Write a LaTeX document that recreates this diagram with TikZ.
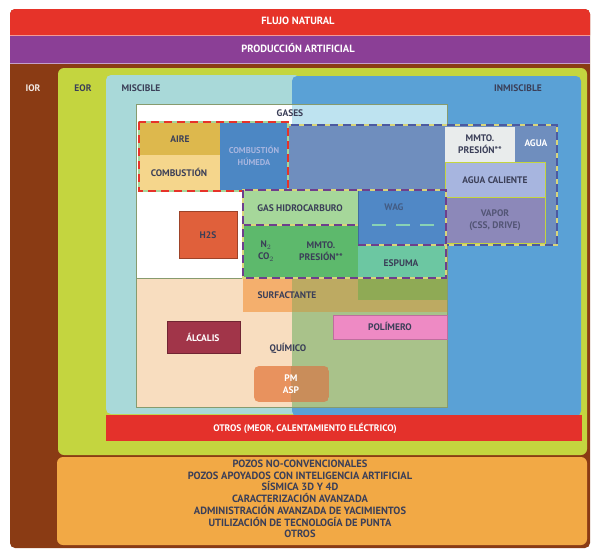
\documentclass[tikz,border=0pt]{standalone}
\usepackage{fontspec}
\setmainfont{PT Sans}
\definecolor{cRed}{HTML}{E63329}
\definecolor{cPurple}{HTML}{8B3F96}
\definecolor{cBrown}{HTML}{8A3B14}
\definecolor{cLime}{HTML}{C4D53F}
\definecolor{cOrange}{HTML}{F2A945}
\definecolor{cTeal}{HTML}{A9D9D9}
\definecolor{cBlue}{HTML}{5AA1D6}
\definecolor{cRedBar}{HTML}{E4312B}
\definecolor{cAire}{HTML}{DDB84D}
\definecolor{cComb}{HTML}{F5D68C}
\definecolor{cCombH}{HTML}{4C87C4}
\definecolor{cAguaG}{HTML}{6F8EBE}
\definecolor{cMmto}{HTML}{E9ECEC}
\definecolor{cAguaC}{HTML}{A7B5DF}
\definecolor{cVapor}{HTML}{8C88B9}
\definecolor{cGHC}{HTML}{A6D79A}
\definecolor{cGreen}{HTML}{5DB96C}
\definecolor{cWag}{HTML}{5088C6}
\definecolor{cEspuma}{HTML}{6CC7A2}
\definecolor{cHtwoS}{HTML}{E0603B}
\definecolor{cPeach}{HTML}{F8DDBF}
\definecolor{cQGreen}{HTML}{A9C28A}
\definecolor{cSurfL}{HTML}{F4AF6D}
\definecolor{cSurfR}{HTML}{BDAA62}
\definecolor{cSurfD}{HTML}{8FAA55}
\definecolor{cPoli}{HTML}{EE8AC4}
\definecolor{cAlc}{HTML}{A13549}
\definecolor{cPmL}{HTML}{E8925E}
\definecolor{cPmR}{HTML}{C98D5A}
\definecolor{cTxt}{HTML}{3B3F58}
\definecolor{cCyan}{HTML}{BEE3F0}
\definecolor{cYel}{HTML}{D9D57A}
\definecolor{cDashP}{HTML}{6E3F8C}
\definecolor{cDashB}{HTML}{4C5AA0}
\begin{document}
\begin{tikzpicture}[x=1pt,y=-1pt,
  lbl/.style={font=\bfseries\fontsize{9.5}{12}\selectfont, text=cTxt, align=center, inner sep=0pt},
  wlbl/.style={lbl, text=white},
  big/.style={font=\bfseries\fontsize{10.5}{11.7}\selectfont, text=cTxt, align=center, inner sep=0pt},
  dd/.style 2 args={draw=#1, line width=1.6pt, dash pattern=on 8pt off 5pt, preaction={draw=#2, line width=1.6pt, solid}},
  thin/.style={line width=0.6pt}]
\useasboundingbox (0,0) rectangle (598,549);
\fill[white] (0,0) rectangle (598,549);
% outer frames
\fill[cBrown, rounded corners=5pt] (10,9) rectangle (590,548);
\fill[cRed, rounded corners=5pt] (10,9) rectangle (590,40);
\fill[cPurple] (10,35) rectangle (590,63);
\draw[thin, draw=cRed!50!white] (10,35) -- (590,35);
\draw[thin, draw=cPurple!50!white] (10,63) -- (590,63);
\fill[cLime, rounded corners=6pt] (58,68) rectangle (587,455);
\fill[cOrange, rounded corners=6pt] (57,457) rectangle (587,545);
% miscible / immiscible
\fill[cTeal, rounded corners=5pt] (106,75) rectangle (300,414);
\fill[cBlue, rounded corners=5pt] (292,76) rectangle (581,416);
\fill[cRedBar] (106,415) rectangle (582,441);
% gases box
\fill[white] (136,104) rectangle (292,278);
\fill[cCyan] (292,104) rectangle (447,125);
% quimico box
\fill[cPeach] (136,278) rectangle (292,407);
\fill[cQGreen] (292,278) rectangle (447,407);
\draw[thin, draw=cQGreen!80!black] (136,104) rectangle (447,407);
\draw[thin, draw=cQGreen!80!black] (136,278) -- (447,278);
% combustion group
\fill[cAire] (139,122) rectangle (220,155);
\fill[cComb] (139,155) rectangle (220,191);
\fill[cCombH] (220,122) rectangle (288,191);
% agua group
\fill[cAguaG] (288,125) rectangle (557,245);
\fill[cMmto] (445,127) rectangle (515,162);
\filldraw[cAguaC, draw=cLime, line width=1pt] (445,162) rectangle (545,197);
\filldraw[cVapor, draw=cLime, line width=1pt] (445,197) rectangle (545,243);
\draw[dd={cDashB}{cYel}] (288,125) rectangle (557,245);
\draw[dd={cRed}{cGHC}] (139,122) rectangle (288,191);
% green group
\fill[cGHC] (243,190) rectangle (358,225);
\fill[cGreen] (243,225) rectangle (358,278);
\filldraw[cWag, draw=cWag!80!black, thin] (358,190) rectangle (446,245);
\fill[cEspuma] (358,245) rectangle (446,278);
\draw[draw=cEspuma!80!white, line width=1.4pt, dash pattern=on 14pt off 10pt] (372,225) -- (434,225);
\draw[dd={cDashP}{cYel}] (243,225) -- (358,225);
\draw[dd={cDashP}{cYel}] (358,245) -- (446,245);
\draw[dd={cDashP}{cYel}] (243,190) rectangle (446,278);
% H2S
\filldraw[cHtwoS, draw=cHtwoS!70!black, thin] (179,211) rectangle (237,258);
% quimico items
\fill[cSurfL] (243,279) rectangle (292,312);
\fill[cSurfR] (292,279) rectangle (447,312);
\fill[cSurfD] (358,279) rectangle (447,300);
\filldraw[cPoli, draw=cPoli!80!black, thin] (333,315) rectangle (447,339);
\filldraw[cAlc, draw=cAlc!70!black, thin] (167,321) rectangle (240,353);
\begin{scope}
\clip[rounded corners=5pt] (254,366) rectangle (329,402);
\fill[cPmL] (254,366) rectangle (291,402);
\fill[cPmR] (291,366) rectangle (329,402);
\end{scope}
% labels
\node[wlbl, font=\bfseries\fontsize{10.5}{12}\selectfont] (fn) at (298,21) {FLUJO NATURAL};
\node[wlbl, font=\bfseries\fontsize{10.5}{12}\selectfont] (pa) at (298,48) {PRODUCCIÓN ARTIFICIAL};
\node[lbl, text=white!88!cBrown] (ior) at (33,88) {IOR};
\node[lbl] (eor) at (83,88) {EOR};
\node[lbl] (mis) at (141,88) {MISCIBLE};
\node[lbl] (inm) at (518,88) {INMISCIBLE};
\node[lbl] (gas) at (290,113) {GASES};
\node[lbl] (aire) at (180,139) {AIRE};
\node[lbl] (comb) at (179,172) {COMBUSTIÓN};
\node[lbl, text=cAguaC, font=\bfseries\fontsize{8.5}{12}\selectfont] (combh) at (254,156) {COMBUSTIÓN\\HÚMEDA};
\node[lbl] (mmto1) at (480,144) {MMTO.\\PRESIÓN**};
\node[wlbl] (agua) at (536,143) {AGUA};
\node[lbl] (aguac) at (495,180) {AGUA CALIENTE};
\node[lbl, text=cTxt!70!cVapor] (vapor) at (495,220) {VAPOR\\(CSS, DRIVE)};
\node[lbl] (ghc) at (300,208) {GAS HIDROCARBURO};
\node[lbl, text=cTxt!60!cWag] (wag) at (394,207) {WAG};
\node[lbl] (n2) at (266,251) {N$_2$\\CO$_2$};
\node[lbl] (mmto2) at (321,251) {MMTO.\\PRESIÓN**};
\node[lbl] (esp) at (401,263) {ESPUMA};
\node[lbl] (h2s) at (208,235) {H2S};
\node[lbl] (surf) at (287,295) {SURFACTANTE};
\node[lbl] (poli) at (390,326) {POLÍMERO};
\node[wlbl] (alc) at (203,337) {ÁLCALIS};
\node[lbl] (quim) at (288,348) {QUÍMICO};
\node[wlbl] (pm) at (291,384) {PM\\ASP};
\node[wlbl] (otros) at (305,428) {OTROS (MEOR, CALENTAMIENTO ELÉCTRICO)};
\node[big] (list) at (300,499) {POZOS NO-CONVENCIONALES\\POZOS APOYADOS CON INTELIGENCIA ARTIFICIAL\\SÍSMICA 3D Y 4D\\CARACTERIZACIÓN AVANZADA\\ADMINISTRACIÓN AVANZADA DE YACIMIENTOS\\UTILIZACIÓN DE TECNOLOGÍA DE PUNTA\\OTROS};
\end{tikzpicture}
\end{document}
